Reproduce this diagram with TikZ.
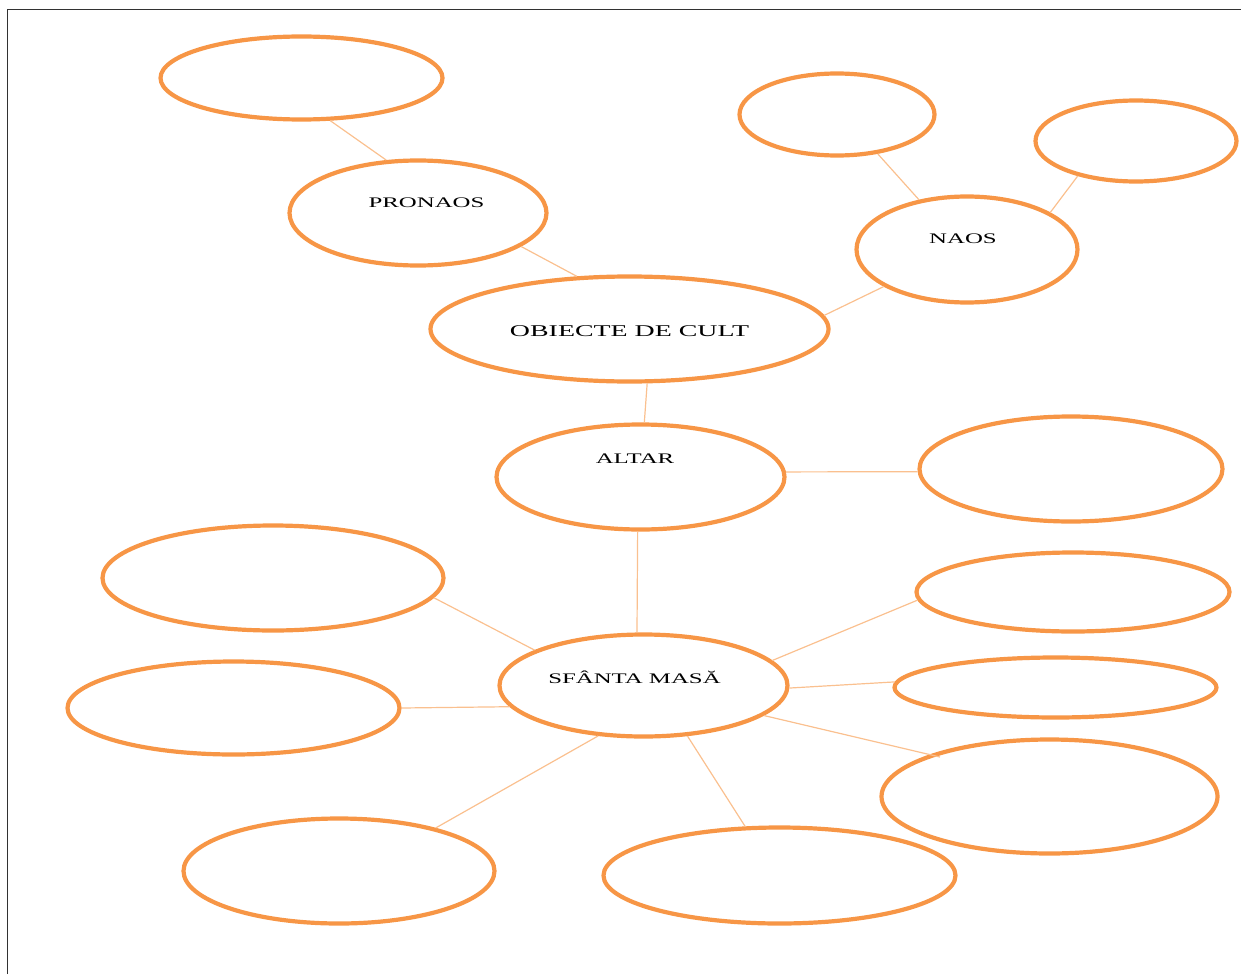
\documentclass[tikz,border=0pt]{standalone}
\usepackage{fontspec}
\usetikzlibrary{shapes.geometric}
\newfontfamily\lblfont[FakeStretch=1.7]{Liberation Serif}
\definecolor{orng}{RGB}{247,150,70}
\definecolor{peach}{RGB}{250,192,143}
\definecolor{framegray}{RGB}{50,50,50}
\tikzset{
  oval/.style 2 args={ellipse, draw=orng, line width=2.1pt, fill=white,
    minimum width=#1*0.5pt-1.5pt, minimum height=#2*0.5pt-1.5pt, inner sep=0pt},
  link/.style={draw=peach, line width=0.6pt},
  smalltxt/.style={anchor=base, inner sep=0pt, font=\lblfont\fontsize{7.3}{8}\selectfont},
  bigtxt/.style={anchor=base, inner sep=0pt, font=\lblfont\fontsize{8.2}{9}\selectfont},
}
\begin{document}
\begin{tikzpicture}[x=0.5pt, y=-0.5pt]
\useasboundingbox (0,0) rectangle (1241,974);
% frame
\draw[framegray, line width=0.9pt] (7.5,974) -- (7.5,9.5) -- (1241,9.5);
% ellipses
\node[oval={285}{86}]  (e1)  at (301.5,78) {};
\node[oval={260}{108}] (pro) at (418,213) {};
\node[oval={198}{85}]  (e3)  at (837,114.5) {};
\node[oval={204}{84}]  (e4)  at (1136,141) {};
\node[oval={224}{109}] (nao) at (967,249.5) {};
\node[oval={401}{108}] (obi) at (629.5,329) {};
\node[oval={291}{108}] (alt) at (640.5,477) {};
\node[oval={306}{108}] (e8)  at (1071,469) {};
\node[oval={291}{105}] (sf)  at (643.5,685.5) {};
\node[oval={344}{108}] (e10) at (273,578) {};
\node[oval={335}{96}]  (e11) at (233.5,708) {};
\node[oval={314}{108}] (e12) at (339,871) {};
\node[oval={355}{99}]  (e13) at (779.5,875.5) {};
\node[oval={316}{82}]  (e14) at (1073,592) {};
\node[oval={325}{63}]  (e15) at (1055.5,687.5) {};
\node[oval={339}{117}] (e16) at (1049.5,796.5) {};
\coordinate (e16end) at (940,757);
% connectors
\path[link] (e1.-56.5) -- (pro.121);
\path[link] (pro.-18.1) -- (obi.135.8);
\path[link] (e3.-44) -- (nao.134);
\path[link] (e4.211.4) -- (nao.24.3);
\path[link] (nao.204.3) -- (obi.4.6);
\path[link] (obi.-72.3) -- (alt.86.3);
\path[link] (alt.2.7) -- (e8.181.5);
\path[link] (alt.-93.6) -- (sf.97);
\path[link] (sf.162.2) -- (e10.-7.6);
\path[link] (sf.189) -- (e11.0.3);
\path[link] (sf.228.5) -- (e12.24.6);
\path[link] (sf.-49.1) -- (e13.125.6);
\path[link] (sf.11.7) -- (e14.183.3);
\path[link] (sf.-1) -- (e15.178.8);
\path[link] (sf.-14.1) -- (e16end);
% labels
\node[smalltxt] (tpro) at (426.5,207.5) {PRONAOS};
\node[smalltxt] (tnao) at (963,243) {NAOS};
\node[bigtxt]   (tobi) at (629.5,336) {OBIECTE DE CULT};
\node[smalltxt] (talt) at (635,463.5) {ALTAR};
\node[smalltxt] (tsf)  at (634.5,683) {SFÂNTA MASĂ};
\end{tikzpicture}
\end{document}
